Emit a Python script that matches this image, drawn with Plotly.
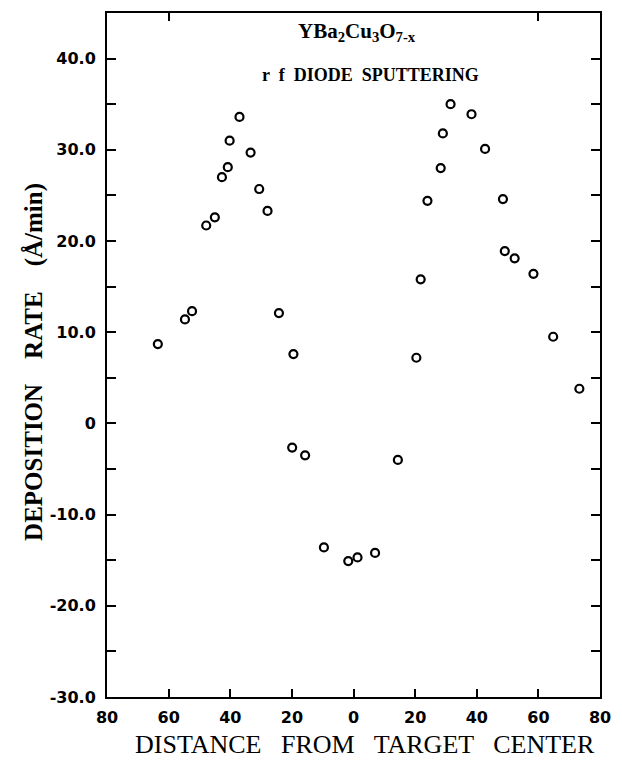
import plotly.graph_objects as go

# Data (distance from target centre, deposition rate Å/min)
distance = [-63.5, -54.7, -52.4, -47.8, -45.0, -42.7, -40.8, -40.2, -37.0, -33.4,
            -30.6, -27.9, -24.2, -19.5, -19.9, -15.7, -9.6, -1.7, 1.3, 7.0,
            14.4, 20.4, 21.8, 24.0, 28.3, 29.0, 31.5, 38.3, 42.7, 48.5,
            49.1, 52.3, 58.4, 64.8, 73.3]
rate = [8.7, 11.4, 12.3, 21.7, 22.6, 27.0, 28.1, 31.0, 33.6, 29.7,
        25.7, 23.3, 12.1, 7.6, -2.65, -3.5, -13.6, -15.1, -14.7, -14.2,
        -4.0, 7.2, 15.8, 24.4, 28.0, 31.8, 35.0, 33.9, 30.1, 24.6,
        18.9, 18.1, 16.4, 9.5, 3.8]

x_tickvals = [-80, -60, -40, -20, 0, 20, 40, 60, 80]
x_ticktext = ["80", "60", "40", "20", "0", "20", "40", "60", "80"]
y_tickvals = [-30, -20, -10, 0, 10, 20, 30, 40]
y_ticktext = ["-30.0", "-20.0", "-10.0", "0", "10.0", "20.0", "30.0", "40.0"]
y_minorvals = [-25, -15, -5, 5, 15, 25, 35]
top_tickvals = [-60, 60]

fig = go.Figure()
fig.add_trace(go.Scatter(
    x=distance, y=rate, mode="markers",
    marker=dict(symbol="circle-open", size=8, color="black", line=dict(width=2.2, color="black")),
    showlegend=False, hoverinfo="skip"))

tickfont = dict(family="DejaVu Sans", size=16, color="black", weight="bold")

fig.update_layout(
    width=622, height=767,
    margin=dict(l=107, r=16, t=11, b=70),
    paper_bgcolor="white", plot_bgcolor="white",
    xaxis=dict(range=[-80, 80], tickvals=x_tickvals, ticktext=x_ticktext,
               ticks="inside", ticklen=8, tickwidth=2, tickcolor="black",
               showline=True, linewidth=2, linecolor="black", mirror=True,
               showgrid=False, zeroline=False, tickfont=tickfont, ticklabelstandoff=5),
    xaxis2=dict(range=[-80, 80], overlaying="x", side="top", tickvals=top_tickvals,
                showticklabels=False, ticks="inside", ticklen=8, tickwidth=2, tickcolor="black",
                showline=False, showgrid=False, zeroline=False),
    yaxis=dict(range=[-30, 45], tickvals=y_tickvals, ticktext=y_ticktext,
               ticks="inside", ticklen=9, tickwidth=2, tickcolor="black",
               minor=dict(tickvals=y_minorvals, ticks="inside", ticklen=9, tickwidth=2,
                          tickcolor="black", showgrid=False),
               showline=True, linewidth=2, linecolor="black", mirror="ticks",
               showgrid=False, zeroline=False, tickfont=tickfont, ticklabelstandoff=6),
    annotations=[
        dict(x=1.1, y=42.95, xref="x", yref="y", showarrow=False, yanchor="middle",
             text="YBa<sub>2</sub>Cu<sub>3</sub>O<sub>7-x</sub>",
             font=dict(family="Liberation Serif", size=21, color="black", weight="bold")),
        dict(x=5.6, y=38.25, xref="x", yref="y", showarrow=False, yanchor="middle",
             text="r  f  DIODE  SPUTTERING",
             font=dict(family="Liberation Serif", size=18, color="black", weight="bold")),
        dict(x=0.523, y=-0.07, xref="paper", yref="paper", showarrow=False,
             xanchor="center", yanchor="middle",
             text="DISTANCE   FROM   TARGET   CENTER",
             font=dict(family="Liberation Serif", size=26, color="black")),
        dict(x=-0.148, y=0.49, xref="paper", yref="paper", showarrow=False,
             xanchor="center", yanchor="middle", textangle=-90,
             text="DEPOSITION    RATE    (Å/min)",
             font=dict(family="Liberation Serif", size=25, color="black", weight="bold")),
    ],
)
# invisible trace to activate the top tick axis
fig.add_trace(go.Scatter(x=[None], y=[None], xaxis="x2", yaxis="y", showlegend=False, hoverinfo="skip"))

fig.write_html("out.html")
